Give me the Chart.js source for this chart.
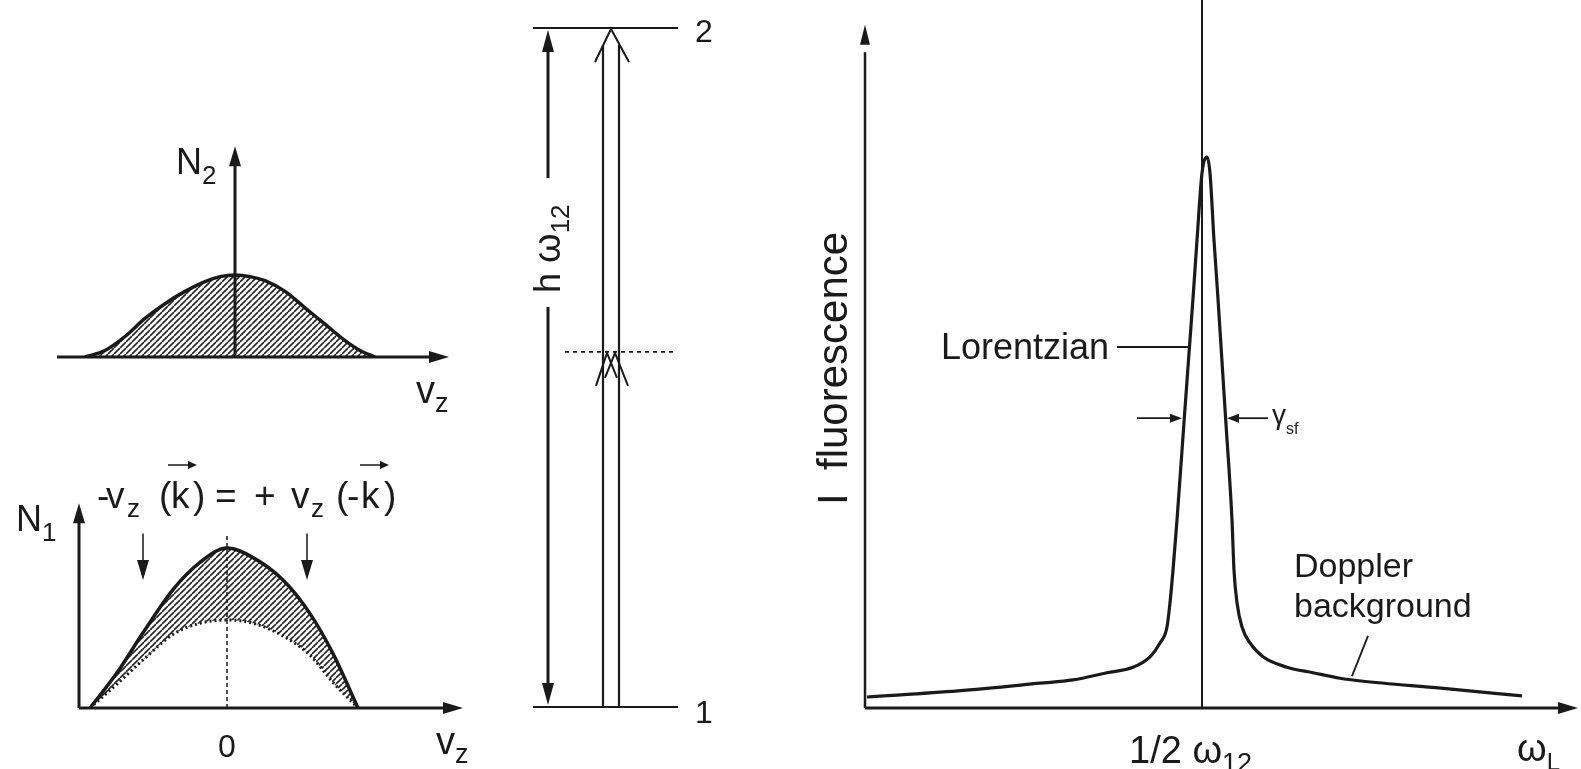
<!DOCTYPE html>
<html>
<head>
<meta charset="utf-8">
<title>Doppler-free two-photon spectroscopy</title>
<script src="https://cdn.jsdelivr.net/npm/chart.js@4.4.1/dist/chart.umd.min.js"></script>
<style>
  html, body { margin: 0; background: #fff; }
  #figure { position: relative; width: 1581px; height: 769px; overflow: hidden; background: #fff; }
  #figure canvas { position: absolute; left: 0; top: 0; }
</style>
</head>
<body>
<div id="figure">
  <canvas id="upperPop" width="1581" height="769"></canvas>
  <canvas id="lowerPop" width="1581" height="769"></canvas>
  <canvas id="levels" width="1581" height="769"></canvas>
  <canvas id="spectrum" width="1581" height="769"></canvas>
</div>
<script>
// upper level population N2 against v_z (peak = 1)
const n2Vz  = [-1.5, -1.3, -1.1, -0.9, -0.7, -0.5, -0.3, -0.15, 0, 0.15, 0.3, 0.5, 0.7, 0.9, 1.1, 1.25, 1.4];
const n2Pop = [0, 0.08, 0.25, 0.47, 0.65, 0.8, 0.92, 0.98, 1, 0.98, 0.93, 0.8, 0.6, 0.4, 0.2, 0.08, 0];

// lower level population N1, total and what is left after the two photon pumping
const n1Vz       = [-1.37, -1.1, -0.84, -0.54, -0.27, 0, 0.26, 0.56, 0.83, 1.06, 1.31];
const n1Total    = [0, 0.22, 0.47, 0.74, 0.91, 1, 0.94, 0.8, 0.59, 0.34, 0];
const n1Depleted = [0, 0.15, 0.3, 0.46, 0.53, 0.55, 0.53, 0.45, 0.33, 0.16, 0];
const pumpedVz   = [-0.84, 0.8];

// level scheme, energy in units of one photon (1/2 h w12)
const levelE     = [0, 2];
const levelNames = ['1', '2'];
const virtualE   = 1.046;

// fluorescence against laser frequency, offset from 1/2 w12
const omegaL = [-3.35, -2.44, -1.62, -1.29, -0.95, -0.69, -0.52, -0.42, -0.35, -0.32, -0.29, -0.25,
                -0.177, -0.113, -0.084, -0.05, 0, 0.05, 0.08, 0.12, 0.154, 0.18, 0.236, 0.3, 0.32, 0.35,
                0.4, 0.48, 0.61, 0.85, 1.11, 1.38, 1.59, 2.39, 3.2];
const fluorescence = [0.02, 0.031, 0.045, 0.051, 0.064, 0.074, 0.093, 0.118, 0.147, 0.191, 0.25, 0.341,
                      0.526, 0.686, 0.759, 0.849, 0.971, 1, 0.971, 0.849, 0.759, 0.686, 0.526, 0.341, 0.25, 0.191,
                      0.147, 0.118, 0.093, 0.074, 0.064, 0.054, 0.049, 0.036, 0.022];

const FONT = '"Liberation Sans", Arial, Helvetica, sans-serif';
const INK = '#1a1a1a';

function points(xs, ys) {
  return xs.map((x, i) => ({ x: x, y: ys[i] }));
}

function hatchPattern(canvas, step, lw) {
  const tile = document.createElement('canvas');
  tile.width = tile.height = step;
  const g = tile.getContext('2d');
  g.strokeStyle = '#262626';
  g.lineWidth = lw;
  g.beginPath();
  for (const o of [-step, 0, step]) {
    g.moveTo(o, step);
    g.lineTo(o + step, 0);
  }
  g.stroke();
  return canvas.getContext('2d').createPattern(tile, 'repeat');
}

function seg(ctx, x1, y1, x2, y2, lw, dash) {
  ctx.save();
  ctx.lineWidth = lw;
  ctx.setLineDash(dash || []);
  ctx.beginPath();
  ctx.moveTo(x1, y1);
  ctx.lineTo(x2, y2);
  ctx.stroke();
  ctx.restore();
}

function poly(ctx, pts, lw) {
  ctx.save();
  ctx.lineWidth = lw;
  ctx.beginPath();
  pts.forEach((p, i) => i ? ctx.lineTo(p[0], p[1]) : ctx.moveTo(p[0], p[1]));
  ctx.stroke();
  ctx.restore();
}

// filled arrow head, tip at (tx, ty), pointing along (dx, dy)
function head(ctx, tx, ty, dx, dy, len, half) {
  const n = Math.hypot(dx, dy);
  dx /= n; dy /= n;
  const bx = tx - dx * len, by = ty - dy * len;
  ctx.beginPath();
  ctx.moveTo(tx, ty);
  ctx.lineTo(bx - dy * half, by + dx * half);
  ctx.lineTo(bx + dy * half, by - dx * half);
  ctx.closePath();
  ctx.fill();
}

// text with subscripts: parts = [[text, size, dy]]
function run(ctx, parts, x, y) {
  ctx.textAlign = 'left';
  ctx.textBaseline = 'alphabetic';
  for (const [t, s, dy] of parts) {
    ctx.font = s + 'px ' + FONT;
    ctx.fillText(t, x, y + (dy || 0));
    x += ctx.measureText(t).width;
  }
  return x;
}

function overlay(draw) {
  return {
    id: 'overlay',
    afterDatasetsDraw(chart) {
      const ctx = chart.ctx;
      const X = v => chart.scales.x.getPixelForValue(v);
      const Y = v => chart.scales.y.getPixelForValue(v);
      ctx.save();
      ctx.fillStyle = INK;
      ctx.strokeStyle = INK;
      draw(ctx, X, Y);
      ctx.restore();
    }
  };
}

// area = [left, top, right, bottom] of the plot box in page pixels
function baseOptions(area, xRange, yRange) {
  return {
    responsive: false,
    animation: false,
    events: [],
    layout: { padding: { left: area[0], top: area[1], right: 1581 - area[2], bottom: 769 - area[3] } },
    plugins: { legend: { display: false }, tooltip: { enabled: false } },
    scales: {
      x: { type: 'linear', display: false, min: xRange[0], max: xRange[1] },
      y: { type: 'linear', display: false, min: yRange[0], max: yRange[1] }
    }
  };
}

const lineStyle = { showLine: true, pointRadius: 0, borderColor: INK, cubicInterpolationMode: 'monotone' };

// ---- upper left: N2 ----
const upperCanvas = document.getElementById('upperPop');
new Chart(upperCanvas, {
  type: 'scatter',
  data: {
    datasets: [{
      ...lineStyle,
      data: points(n2Vz, n2Pop),
      borderWidth: 3.5,
      fill: 'origin',
      backgroundColor: hatchPattern(upperCanvas, 6, 1.6)
    }]
  },
  options: baseOptions([57, 140, 449, 357], [-1.78, 2.14], [0, 2.646]),
  plugins: [overlay((ctx, X, Y) => {
    seg(ctx, X(-1.78), Y(0), X(2.0), Y(0), 3);
    head(ctx, X(2.14), Y(0), 1, 0, 20, 6);
    seg(ctx, X(0), Y(0), X(0), Y(2.4), 3);
    head(ctx, X(0), Y(2.57), 0, -1, 20, 6);
    run(ctx, [['N', 36], ['2', 26, 10]], 176, 174);
    run(ctx, [['v', 38], ['z', 27, 9]], 416, 403);
  })]
});

// ---- lower left: N1 ----
const lowerCanvas = document.getElementById('lowerPop');
new Chart(lowerCanvas, {
  type: 'scatter',
  data: {
    datasets: [{
      ...lineStyle,
      data: points(n1Vz, n1Total),
      borderWidth: 3.5,
      fill: '+1',
      backgroundColor: hatchPattern(lowerCanvas, 6, 1.6)
    }, {
      ...lineStyle,
      data: points(n1Vz, n1Depleted),
      borderWidth: 3,
      borderDash: [2, 3],
      fill: false
    }]
  },
  options: baseOptions([79, 480, 463, 708], [-1.48, 2.36], [0, 1.425]),
  plugins: [overlay((ctx, X, Y) => {
    seg(ctx, X(-1.48), Y(0), X(2.22), Y(0), 3);
    head(ctx, X(2.36), Y(0), 1, 0, 20, 6);
    seg(ctx, X(-1.48), Y(0), X(-1.48), Y(1.17), 3);
    head(ctx, X(-1.48), Y(1.28), 0, -1, 20, 6);
    seg(ctx, X(0), Y(0), X(0), Y(1.09), 1.5, [4, 3]);
    pumpedVz.forEach(v => {
      seg(ctx, X(v), Y(1.09), X(v), Y(0.9), 1.5);
      head(ctx, X(v), Y(0.8), 0, 1, 20, 6);
    });
    // -v_z(k) = +v_z(-k)
    ctx.font = '37px ' + FONT;
    const glyphs = [['-', 97], ['v', 106], ['(', 159], ['k', 171], [')', 193], ['=', 215],
                    ['+', 254], ['v', 291], ['(', 336], ['-', 347], ['k', 361], [')', 384]];
    glyphs.forEach(([t, x]) => ctx.fillText(t, x, 508));
    ctx.font = '26px ' + FONT;
    ctx.fillText('z', 127, 517);
    ctx.fillText('z', 311, 517);
    [[168, 197], [360, 389]].forEach(([a, b]) => {
      seg(ctx, a, 465, b - 6, 465, 1.5);
      head(ctx, b, 465, 1, 0, 9, 4);
    });
    run(ctx, [['N', 36], ['1', 26, 10]], 16, 531);
    ctx.font = '32px ' + FONT;
    ctx.textAlign = 'center';
    ctx.fillText('0', X(0), 757);
    run(ctx, [['v', 38], ['z', 27, 9]], 436, 754);
  })]
});

// ---- middle: level scheme ----
const levelSets = levelE.map(e => ({
  ...lineStyle, data: points([0.3, 14.8], [e, e]), borderWidth: 2.2
}));
const photonSets = [7.3, 8.9].map(x => ({
  ...lineStyle, data: points([x, x], [levelE[0], levelE[1] - 0.05]), borderWidth: 2.2
}));
new Chart(document.getElementById('levels'), {
  type: 'scatter',
  data: {
    datasets: [...levelSets, ...photonSets, {
      ...lineStyle,
      data: points([3.5, 14.3], [virtualE, virtualE]),
      borderWidth: 1.6,
      borderDash: [4, 4]
    }]
  },
  options: baseOptions([530, 10, 690, 720], [0, 16], [-0.0383, 2.053]),
  plugins: [overlay((ctx, X, Y) => {
    const xa = X(1.8);
    seg(ctx, xa, Y(levelE[0]) - 16, xa, Y(1.178), 3);
    head(ctx, xa, Y(levelE[0]) - 2, 0, 1, 22, 6);
    seg(ctx, xa, Y(1.558), xa, Y(levelE[1]) + 18, 3);
    head(ctx, xa, Y(levelE[1]) + 2, 0, -1, 22, 6);
    ctx.save();
    ctx.translate(xa + 12, Y(1.178) - 14);
    ctx.rotate(-Math.PI / 2);
    run(ctx, [['h ', 36], ['\u03c9', 38], ['12', 26, 9]], 0, 0);
    ctx.restore();
    // arrow heads of the two photons
    const xl = X(7.3), xr = X(8.9), mid = (xl + xr) / 2;
    const y2 = Y(levelE[1]), yv = Y(virtualE);
    poly(ctx, [[mid - 16, y2 + 34], [mid, y2 + 1], [mid + 18, y2 + 34]], 2);
    poly(ctx, [[xl - 7, yv + 34], [xl + 4, yv + 1], [xl + 14, yv + 26]], 2);
    poly(ctx, [[xr - 14, yv + 26], [xr - 4, yv + 1], [xr + 9, yv + 34]], 2);
    ctx.font = '32px ' + FONT;
    ctx.textAlign = 'left';
    levelE.forEach((e, i) => ctx.fillText(levelNames[i], X(16.5), Y(e) + (i ? 14 : 16)));
  })]
});

// ---- right: fluorescence spectrum ----
new Chart(document.getElementById('spectrum'), {
  type: 'scatter',
  data: {
    datasets: [{
      ...lineStyle,
      data: points(omegaL, fluorescence),
      borderWidth: 3.2
    }, {
      ...lineStyle,
      data: points([0, 0], [0, 1.285]),
      borderWidth: 2
    }]
  },
  options: baseOptions([865, 0, 1578, 708], [-3.37, 3.76], [0, 1.285]),
  plugins: [overlay((ctx, X, Y) => {
    seg(ctx, X(-3.37), Y(0), X(3.6), Y(0), 3);
    head(ctx, X(3.76), Y(0), 1, 0, 20, 6);
    seg(ctx, X(-3.37), Y(0), X(-3.37), Y(1.19), 2.5);
    head(ctx, X(-3.37), Y(1.24), 0, -1, 20, 5);

    ctx.save();
    ctx.translate(847, 505);
    ctx.rotate(-Math.PI / 2);
    ctx.font = '42px ' + FONT;
    ctx.textAlign = 'left';
    ctx.fillText('I  fluorescence', 0, 0);
    ctx.restore();

    const yl = Y(0.655);
    seg(ctx, X(-0.85), yl, X(-0.14), yl, 2);
    ctx.font = '36px ' + FONT;
    ctx.textAlign = 'right';
    ctx.fillText('Lorentzian', X(-0.93), yl + 12);

    const yg = Y(0.526);
    seg(ctx, X(-0.65), yg, X(-0.3), yg, 1.8);
    head(ctx, X(-0.2), yg, 1, 0, 12, 4.5);
    seg(ctx, X(0.66), yg, X(0.34), yg, 1.8);
    head(ctx, X(0.25), yg, -1, 0, 12, 4.5);
    run(ctx, [['\u03b3', 28], ['sf', 16, 10]], X(0.7), yg + 6);

    ctx.font = '34px ' + FONT;
    ctx.textAlign = 'left';
    ctx.fillText('Doppler', 1294, 577);
    ctx.fillText('background', 1294, 617);
    seg(ctx, X(1.66), Y(0.131), X(1.5), Y(0.058), 1.8);

    run(ctx, [['1/2 ', 38], ['\u03c9', 38], ['12', 27, 9]], 1129, 763);
    run(ctx, [['\u03c9', 38], ['L', 24, 9]], 1517, 761);
  })]
});
</script>
</body>
</html>
